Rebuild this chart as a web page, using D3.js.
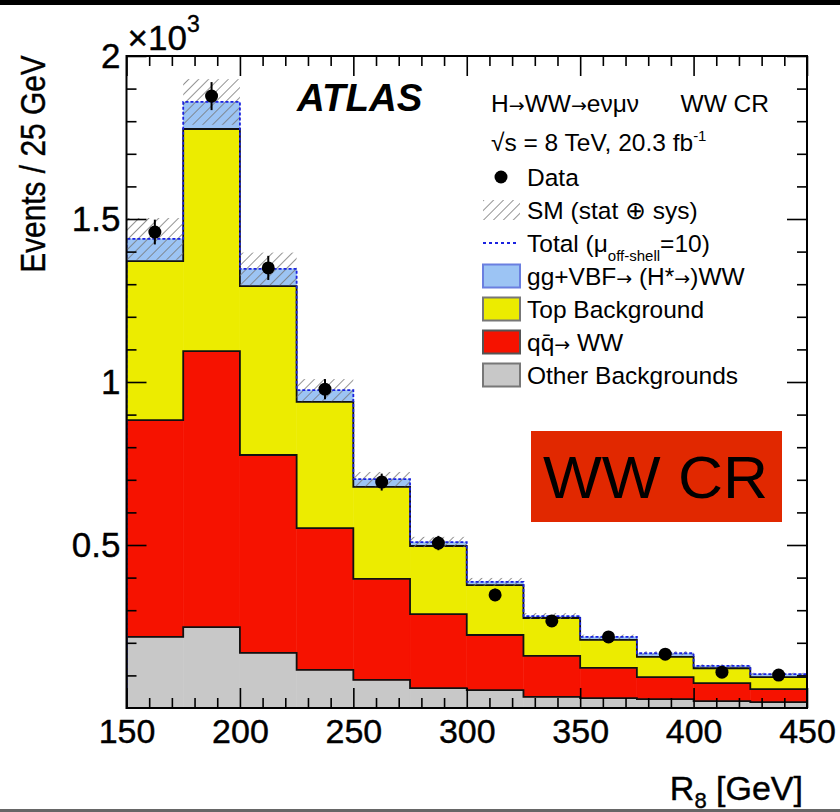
<!DOCTYPE html>
<html>
<head>
<meta charset="utf-8">
<script src="https://cdn.jsdelivr.net/npm/d3@7"></script>
<style>
body { margin: 0; background: #fff; }
svg { display: block; }
text { font-family: "Liberation Sans", Arial, Helvetica, sans-serif; fill: #000; }
tspan.arr { font-family: "DejaVu Sans", sans-serif; font-size: 19px; }
</style>
</head>
<body>
<svg id="chart" width="840" height="812"></svg>
<script>
// bins of R_8 [GeV], 25 GeV wide
var binLow = [150, 175, 200, 225, 250, 275, 300, 325, 350, 375, 400, 425];
var binWidth = 25;

// stacked MC components (events / bin)
var otherBkg = [218, 248, 169, 117, 86, 61, 55, 34, 30, 27, 21, 18];
var qqWW     = [665, 847, 607, 435, 310, 227, 169, 126, 93, 68, 55, 40];
var topBkg   = [488, 681, 518, 387, 282, 209, 153, 116, 86, 62, 46, 37];
var ggVBF    = [68, 83, 53, 36, 24, 12, 10, 6, 9, 11, 7, 9];
var smErr    = [64, 70, 50, 34, 22, 16, 12, 9, 7, 6, 5, 4];

// data points
var dataVal = [1460, 1877, 1350, 978, 693, 506, 347, 267, 218, 165, 110, 101];
var dataErr = [38, 43, 37, 31, 26, 22, 19, 16, 15, 13, 10, 10];

var xTicks = [150, 200, 250, 300, 350, 400, 450];
var yTicks = [500, 1000, 1500, 2000];
var yTickLabels = ['0.5', '1', '1.5', '2'];

var colors = {other: '#c8c8c8', qq: '#f61200', top: '#ecec00', gg: '#9cc4f4'};

var svg = d3.select('#chart');

// photo border bits
svg.append('rect').attr('x', 0).attr('y', 0).attr('width', 840).attr('height', 5).attr('fill', '#000');
svg.append('rect').attr('x', 0).attr('y', 809).attr('width', 840).attr('height', 3).attr('fill', '#666');

var x = d3.scaleLinear().domain([150, 450]).range([126.5, 807]);
var y = d3.scaleLinear().domain([0, 2000]).range([708, 56]);

// hatch pattern
var defs = svg.append('defs');
var pat = defs.append('pattern')
	.attr('id', 'hatch')
	.attr('patternUnits', 'userSpaceOnUse')
	.attr('width', 7).attr('height', 7)
	.attr('patternTransform', 'rotate(45)');
pat.append('line')
	.attr('x1', 0).attr('y1', 0).attr('x2', 0).attr('y2', 7)
	.attr('stroke', '#777').attr('stroke-width', 1.6);

var clip = defs.append('clipPath').attr('id', 'plotclip');
clip.append('rect').attr('x', x(150)).attr('y', y(2000)).attr('width', x(450) - x(150)).attr('height', y(0) - y(2000));

var rows = binLow.map(function(b, i) {
	return {low: b, other: otherBkg[i], qq: qqWW[i], top: topBkg[i], gg: ggVBF[i]};
});
var keys = ['other', 'qq', 'top', 'gg'];
var series = d3.stack().keys(keys)(rows);

var plot = svg.append('g').attr('clip-path', 'url(#plotclip)');

// filled bins
series.forEach(function(s) {
	plot.append('g').selectAll('rect')
		.data(s)
		.enter().append('rect')
		.attr('x', function(d) { return x(d.data.low); })
		.attr('width', function(d) { return x(d.data.low + binWidth) - x(d.data.low); })
		.attr('y', function(d) { return y(d[1]); })
		.attr('height', function(d) { return y(d[0]) - y(d[1]); })
		.attr('fill', colors[s.key])
		.attr('stroke', colors[s.key])
		.attr('stroke-width', 0.5);
});

function stepPoints(vals) {
	var pts = [[150, 0]];
	vals.forEach(function(v, i) { pts.push([binLow[i], v]); });
	pts.push([450, vals[vals.length - 1]]);
	pts.push([450, 0]);
	return pts;
}
var stepLine = d3.line()
	.x(function(d) { return x(d[0]); })
	.y(function(d) { return y(d[1]); })
	.curve(d3.curveStepAfter);

// black outlines of the stacked histograms
series.slice(0, 3).forEach(function(s) {
	plot.append('path')
		.attr('d', stepLine(stepPoints(s.map(function(d) { return d[1]; }))))
		.attr('fill', 'none')
		.attr('stroke', '#111')
		.attr('stroke-width', 1.8);
});

var totals = series[3].map(function(d) { return d[1]; });

// SM uncertainty band
plot.append('g').selectAll('rect')
	.data(totals)
	.enter().append('rect')
	.attr('x', function(d, i) { return x(binLow[i]); })
	.attr('width', function(d, i) { return x(binLow[i] + binWidth) - x(binLow[i]); })
	.attr('y', function(d, i) { return y(d + smErr[i]); })
	.attr('height', function(d, i) { return y(d - smErr[i]) - y(d + smErr[i]); })
	.attr('fill', 'url(#hatch)');

// total (mu offshell = 10), dotted blue
plot.append('path')
	.attr('d', stepLine(stepPoints(totals)))
	.attr('fill', 'none')
	.attr('stroke', '#1a22e0')
	.attr('stroke-width', 1.8)
	.attr('stroke-dasharray', '3,2');

// data
var pts = svg.append('g');
pts.selectAll('line')
	.data(dataVal)
	.enter().append('line')
	.attr('x1', function(d, i) { return x(binLow[i] + binWidth / 2); })
	.attr('x2', function(d, i) { return x(binLow[i] + binWidth / 2); })
	.attr('y1', function(d, i) { return y(d - dataErr[i]); })
	.attr('y2', function(d, i) { return y(d + dataErr[i]); })
	.attr('stroke', '#000').attr('stroke-width', 2);
pts.selectAll('circle')
	.data(dataVal)
	.enter().append('circle')
	.attr('cx', function(d, i) { return x(binLow[i] + binWidth / 2); })
	.attr('cy', function(d) { return y(d); })
	.attr('r', 6.5)
	.attr('fill', '#000');

// axes: inward ticks, major + minor, on all four sides
var xMinor = d3.range(150, 451, 10).filter(function(v) { return v % 50 !== 0; });
var yMinor = d3.range(100, 2000, 100).filter(function(v) { return v % 500 !== 0; });

function addAxis(axis, tx, ty, fs) {
	var g = svg.append('g').attr('transform', 'translate(' + tx + ',' + ty + ')').call(axis);
	g.select('.domain').remove();
	g.selectAll('.tick line').attr('stroke', '#000').attr('stroke-width', 1.6);
	g.selectAll('text').attr('font-size', fs).attr('font-family', '"Liberation Sans", Arial, sans-serif')
		.attr('fill', '#000').attr('stroke', '#000').attr('stroke-width', 0.4);
	return g;
}

addAxis(d3.axisBottom(x).tickValues(xTicks).tickSize(-20).tickPadding(11).tickFormat(d3.format('d')), 0, y(0), 34);
addAxis(d3.axisBottom(x).tickValues(xMinor).tickSize(-10).tickFormat(''), 0, y(0), 0);
addAxis(d3.axisTop(x).tickValues(xTicks).tickSize(-20).tickFormat(''), 0, y(2000), 0);
addAxis(d3.axisTop(x).tickValues(xMinor).tickSize(-10).tickFormat(''), 0, y(2000), 0);
addAxis(d3.axisLeft(y).tickValues(yTicks).tickSize(-20).tickPadding(6)
	.tickFormat(function(d, i) { return yTickLabels[i]; }), x(150), 0, 35);
addAxis(d3.axisLeft(y).tickValues(yMinor).tickSize(-10).tickFormat(''), x(150), 0, 0);
addAxis(d3.axisRight(y).tickValues(yTicks).tickSize(-20).tickFormat(''), x(450), 0, 0);
addAxis(d3.axisRight(y).tickValues(yMinor).tickSize(-10).tickFormat(''), x(450), 0, 0);

// frame
svg.append('rect')
	.attr('x', x(150)).attr('y', y(2000))
	.attr('width', x(450) - x(150)).attr('height', y(0) - y(2000))
	.attr('fill', 'none').attr('stroke', '#000').attr('stroke-width', 2);

// x10^3
var exp = svg.append('text').attr('x', x(150) + 1).attr('y', 50).attr('font-size', 35)
	.attr('stroke', '#000').attr('stroke-width', 0.4);
exp.append('tspan').text('\u00d710');
exp.append('tspan').attr('font-size', 23).attr('dy', -18).text('3');

// axis titles
svg.append('text')
	.attr('transform', 'translate(45,164) rotate(-90) scale(0.83,1)')
	.attr('text-anchor', 'middle')
	.attr('font-size', 36)
	.attr('stroke', '#000').attr('stroke-width', 0.4)
	.text('Events / 25 GeV');

var xt = svg.append('text')
	.attr('x', 803).attr('y', 800)
	.attr('text-anchor', 'end')
	.attr('font-size', 34)
	.attr('stroke', '#000').attr('stroke-width', 0.4);
xt.append('tspan').text('R');
xt.append('tspan').attr('font-size', 22).attr('dy', 8).text('8');
xt.append('tspan').attr('dy', -8).text(' [GeV]');

// ATLAS label
svg.append('text')
	.attr('x', 297).attr('y', 111)
	.attr('font-size', 38.5)
	.attr('font-weight', 'bold')
	.attr('font-style', 'italic')
	.text('ATLAS');

// legend
var leg = svg.append('g');
var lfs = 24.5;

// text with arrows set in a wider arrow font
function richText(t, str) {
	str.split('\u2192').forEach(function(part, i) {
		if (i > 0) t.append('tspan').attr('class', 'arr').text('\u2192');
		if (part) t.append('tspan').text(part);
	});
	return t;
}

richText(leg.append('text').attr('x', 491).attr('y', 112).attr('font-size', lfs),
	'H\u2192WW\u2192e\u03bd\u03bc\u03bd');
leg.append('text').attr('x', 769).attr('y', 112).attr('font-size', lfs).attr('text-anchor', 'end')
	.text('WW CR');
var sq = leg.append('text').attr('x', 491).attr('y', 151).attr('font-size', lfs);
sq.append('tspan').text('\u221as = 8 TeV, 20.3 fb');
sq.append('tspan').attr('font-size', 15).attr('dy', -10).text('-1');

var legRows = [
	{label: 'Data', kind: 'dot'},
	{label: 'SM (stat \u2295 sys)', kind: 'hatch'},
	{label: 'Total', kind: 'dash'},
	{label: 'gg+VBF\u2192 (H*\u2192)WW', kind: 'box', fill: colors.gg, stroke: '#6a7fe0'},
	{label: 'Top Background', kind: 'box', fill: colors.top, stroke: '#777'},
	{label: 'qq\u0304\u2192 WW', kind: 'box', fill: colors.qq, stroke: '#555'},
	{label: 'Other Backgrounds', kind: 'box', fill: colors.other, stroke: '#777'}
];
legRows.forEach(function(r, i) {
	var cy = 177 + i * 33;
	if (r.kind === 'dot') {
		leg.append('circle').attr('cx', 501).attr('cy', cy).attr('r', 6.5).attr('fill', '#000');
	} else if (r.kind === 'hatch') {
		leg.append('rect').attr('x', 483).attr('y', cy - 10).attr('width', 37).attr('height', 20).attr('fill', 'url(#hatch)');
	} else if (r.kind === 'dash') {
		leg.append('line').attr('x1', 483).attr('x2', 517).attr('y1', cy).attr('y2', cy)
			.attr('stroke', '#1a22e0').attr('stroke-width', 2).attr('stroke-dasharray', '3,3');
	} else {
		leg.append('rect').attr('x', 483).attr('y', cy - 11.5).attr('width', 37).attr('height', 23)
			.attr('fill', r.fill).attr('stroke', r.stroke).attr('stroke-width', 2);
	}
	var t = leg.append('text').attr('x', 527).attr('y', cy + 9).attr('font-size', lfs);
	if (r.kind === 'dash') {
		t.append('tspan').text('Total (\u03bc');
		t.append('tspan').attr('font-size', 15).attr('dy', 9).text('off-shell');
		t.append('tspan').attr('dy', -9).text('=10)');
	} else {
		richText(t, r.label);
	}
});

// WW CR badge
svg.append('rect').attr('x', 531).attr('y', 431).attr('width', 251).attr('height', 91).attr('fill', '#e12800');
svg.append('text')
	.attr('x', 543).attr('y', 498)
	.attr('font-family', 'Lato, "Open Sans", sans-serif')
	.attr('font-size', 59)
	.attr('textLength', 225)
	.attr('lengthAdjust', 'spacingAndGlyphs')
	.text('WW CR');
</script>
</body>
</html>
